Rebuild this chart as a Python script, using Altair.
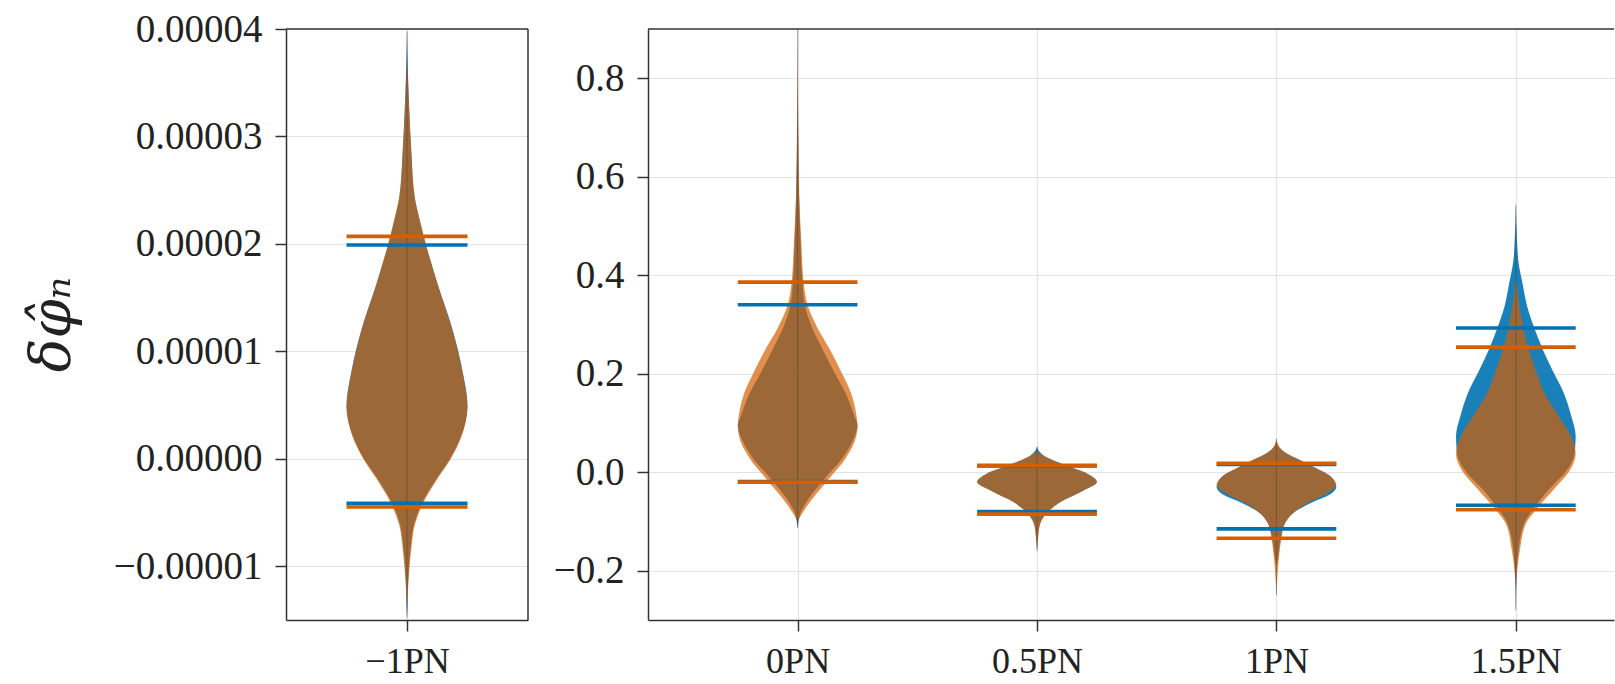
import altair as alt
import pandas as pd

BLUE = "#0072B2"
ORANGE = "#D55E00"
FONT = "Liberation Serif"

# ---------------- violin profiles (value, half-width in category units) -------------
# -1PN (left panel)
m1_blue_v = [-0.0000148, -0.0000138, -0.0000122, -0.0000102, -0.0000081, -0.0000061, -0.0000043, -0.000002, 0.0, 0.000002, 0.0000049, 0.0000081, 0.0000122, 0.0000163, 0.00002, 0.0000224, 0.0000244, 0.0000285, 0.0000326, 0.0000366, 0.0000398]
m1_blue_w = [0.0, 0.002, 0.003, 0.008, 0.016, 0.029, 0.058, 0.118, 0.178, 0.222, 0.25, 0.23, 0.186, 0.126, 0.077, 0.05, 0.031, 0.018, 0.009, 0.003, 0.0]
m1_orange_v = [-0.000014, -0.0000122, -0.0000102, -0.0000081, -0.0000061, -0.0000043, -0.000002, 0.0, 0.000002, 0.0000049, 0.0000081, 0.0000122, 0.0000163, 0.00002, 0.0000224, 0.0000244, 0.0000285, 0.0000326, 0.0000352, 0.000037]
m1_orange_w = [0.0, 0.004, 0.01, 0.019, 0.033, 0.063, 0.122, 0.181, 0.224, 0.25, 0.229, 0.185, 0.126, 0.078, 0.051, 0.032, 0.018, 0.009, 0.004, 0.0]

# 0PN
p0_blue_v = [-0.113, -0.1, -0.087, -0.06, -0.016, 0.028, 0.073, 0.095, 0.117, 0.161, 0.2, 0.25, 0.294, 0.339, 0.386, 0.472, 0.56, 0.693, 0.78]
p0_blue_w = [0.0, 0.004, 0.009, 0.037, 0.107, 0.186, 0.238, 0.25, 0.235, 0.2, 0.156, 0.104, 0.06, 0.03, 0.02, 0.012, 0.006, 0.002, 0.0]
p0_orange_v = [-0.1, -0.087, -0.06, -0.016, 0.028, 0.073, 0.095, 0.117, 0.161, 0.2, 0.25, 0.294, 0.339, 0.386, 0.472, 0.56, 0.693, 0.8, 0.9]
p0_orange_w = [0.0, 0.015, 0.052, 0.126, 0.2, 0.245, 0.25, 0.245, 0.223, 0.186, 0.134, 0.082, 0.042, 0.025, 0.015, 0.007, 0.003, 0.001, 0.0]

# 0.5PN
p05_blue_v = [-0.16, -0.131, -0.105, -0.08, -0.06, -0.038, -0.02, -0.003, 0.014, 0.033, 0.042, 0.052]
p05_blue_w = [0.0, 0.004, 0.012, 0.045, 0.1, 0.19, 0.25, 0.21, 0.12, 0.03, 0.01, 0.0]
p05_orange_v = [-0.158, -0.131, -0.105, -0.08, -0.06, -0.038, -0.02, -0.003, 0.014, 0.033, 0.042]
p05_orange_w = [0.0, 0.005, 0.013, 0.047, 0.1, 0.19, 0.25, 0.21, 0.12, 0.03, 0.0]

# 1PN
p1_blue_v = [-0.19, -0.176, -0.134, -0.104, -0.082, -0.06, -0.043, -0.03, -0.025, -0.007, 0.018, 0.046, 0.062]
p1_blue_w = [0.0, 0.006, 0.018, 0.035, 0.072, 0.155, 0.23, 0.25, 0.248, 0.223, 0.124, 0.02, 0.0]
p1_orange_v = [-0.25, -0.176, -0.134, -0.104, -0.082, -0.06, -0.043, -0.025, -0.007, 0.018, 0.046, 0.068]
p1_orange_w = [0.0, 0.01, 0.021, 0.035, 0.07, 0.14, 0.21, 0.25, 0.223, 0.126, 0.021, 0.0]

# 1.5PN
p15_blue_v = [-0.28, -0.2, -0.158, -0.104, -0.067, -0.034, 0.002, 0.037, 0.073, 0.117, 0.161, 0.206, 0.25, 0.293, 0.339, 0.383, 0.427, 0.48, 0.543]
p15_blue_w = [0.0, 0.004, 0.011, 0.035, 0.084, 0.14, 0.21, 0.245, 0.25, 0.23, 0.2, 0.154, 0.112, 0.077, 0.046, 0.028, 0.011, 0.004, 0.0]
p15_orange_v = [-0.23, -0.193, -0.158, -0.104, -0.076, -0.034, 0.002, 0.037, 0.073, 0.117, 0.161, 0.206, 0.25, 0.293, 0.339, 0.392]
p15_orange_w = [0.0, 0.007, 0.017, 0.042, 0.084, 0.16, 0.223, 0.25, 0.23, 0.175, 0.119, 0.084, 0.053, 0.031, 0.014, 0.0]

# ---------------- interval lines (lower, upper) ----------------
m1_blue_lines = [-0.00000415, 0.0000199]
m1_orange_lines = [-0.00000448, 0.0000207]
right_cats = ["0PN", "0.5PN", "1PN", "1.5PN"]
right_blue_lo = [-0.019, -0.080, -0.115, -0.067]
right_blue_hi = [0.340, 0.013, 0.016, 0.293]
right_orange_lo = [-0.020, -0.085, -0.134, -0.076]
right_orange_hi = [0.386, 0.014, 0.018, 0.254]

LINE_HALF = 0.25


def profile(pos, series, vs, ws):
    return pd.DataFrame({"pos": pos, "series": series, "v": vs, "w": ws})


left_viol = pd.concat([
    profile(0, "blue", m1_blue_v, m1_blue_w),
    profile(0, "orange", m1_orange_v, m1_orange_w),
])
right_viol = pd.concat([
    profile(0, "blue", p0_blue_v, p0_blue_w),
    profile(0, "orange", p0_orange_v, p0_orange_w),
    profile(1, "blue", p05_blue_v, p05_blue_w),
    profile(1, "orange", p05_orange_v, p05_orange_w),
    profile(2, "blue", p1_blue_v, p1_blue_w),
    profile(2, "orange", p1_orange_v, p1_orange_w),
    profile(3, "blue", p15_blue_v, p15_blue_w),
    profile(3, "orange", p15_orange_v, p15_orange_w),
])

left_lines = pd.DataFrame({
    "pos": [0, 0, 0, 0],
    "series": ["blue", "blue", "orange", "orange"],
    "v": m1_blue_lines + m1_orange_lines,
})
right_lines = pd.DataFrame({
    "pos": list(range(4)) * 4,
    "series": ["blue"] * 8 + ["orange"] * 8,
    "v": right_blue_lo + right_blue_hi + right_orange_lo + right_orange_hi,
})


def panel(viol, lines, xdom, ydom, yvals, yfmt, labels, width, height, ytitle, stroke_right):
    xs = alt.Scale(domain=xdom, nice=False, zero=False)
    ys = alt.Scale(domain=ydom, nice=False, zero=False)
    label_expr = "[" + ",".join("'%s'" % l for l in labels) + "][datum.value]"
    xaxis = alt.Axis(values=list(range(len(labels))), labelExpr=label_expr, title=None,
                     labelFontSize=36)
    if ytitle:
        yaxis = alt.Axis(values=yvals, format=yfmt, title=ytitle, labelFontSize=39,
                         titleY=295)
    else:
        yaxis = alt.Axis(values=yvals, format=yfmt, title=None, labelFontSize=39)
    base = alt.Chart(viol).transform_calculate(
        lo="datum.pos - datum.w", hi="datum.pos + datum.w",
        key="datum.series + '_' + datum.pos",
    )
    layers = []
    for series, col, op in [("blue", BLUE, 0.9), ("orange", ORANGE, 0.7)]:
        layers.append(
            base.transform_filter(alt.datum.series == series).mark_area(
                orient="horizontal", color=col, opacity=op, interpolate="monotone"
            ).encode(
                y=alt.Y("v:Q", scale=ys, axis=yaxis),
                x=alt.X("lo:Q", scale=xs, axis=xaxis),
                x2="hi:Q",
                detail="key:N",
            )
        )
    center = alt.Chart(viol).transform_aggregate(
        vmin="min(v)", vmax="max(v)", groupby=["pos"]
    ).mark_rule(color="#4a3a2e", opacity=0.45, strokeWidth=1).encode(
        x=alt.X("pos:Q", scale=xs), y=alt.Y("vmin:Q", scale=ys), y2="vmax:Q"
    )
    layers.append(center)
    lb = alt.Chart(lines).transform_calculate(
        lo="datum.pos - %f" % LINE_HALF, hi="datum.pos + %f" % LINE_HALF
    )
    for series, col in [("blue", BLUE), ("orange", ORANGE)]:
        layers.append(
            lb.transform_filter(alt.datum.series == series).mark_rule(
                color=col, strokeWidth=3.6
            ).encode(
                x=alt.X("lo:Q", scale=xs), x2="hi:Q", y=alt.Y("v:Q", scale=ys)
            )
        )
    frame = pd.DataFrame({"f": [0]})
    layers.append(
        alt.Chart(frame).mark_rule(color="#333333", strokeWidth=1.5).encode(
            y=alt.value(0), x=alt.value(0), x2=alt.value(width)
        )
    )
    if stroke_right:
        layers.append(
            alt.Chart(frame).mark_rule(color="#333333", strokeWidth=1.5).encode(
                x=alt.value(width), y=alt.value(0), y2=alt.value(height)
            )
        )
    return alt.layer(*layers).properties(width=width, height=height)


H = 591
left = panel(left_viol, left_lines, [-0.5, 0.5], [-0.000015, 0.00004],
             [-0.00001, 0.0, 0.00001, 0.00002, 0.00003, 0.00004], ".5f",
             ["\u22121PN"], 242, H, "\u03b4\u03c6\u0302\u2099", True)
right = panel(right_viol, right_lines, [-0.625, 3.41], [-0.3, 0.9],
              [-0.2, 0.0, 0.2, 0.4, 0.6, 0.8], ".1f",
              right_cats, 966, H, None, False)

chart = alt.hconcat(left, right, spacing=24).properties(
    padding={"left": 24, "top": 10, "right": 0, "bottom": 0},
    background="white",
).configure_view(stroke=None).configure_axis(
    labelFont=FONT, labelColor="#222222",
    tickColor="#333333", tickSize=11, tickWidth=1.5,
    domainColor="#333333", domainWidth=1.5,
    gridColor="#e3e3e3", gridWidth=1.2, labelPadding=13,
    titleFont="DejaVu Serif", titleFontSize=56, titleFontWeight="normal",
    titleFontStyle="italic", titleColor="#222222", titlePadding=32,
)

chart.save("out.html", embed_options={"renderer": "svg", "actions": False})
